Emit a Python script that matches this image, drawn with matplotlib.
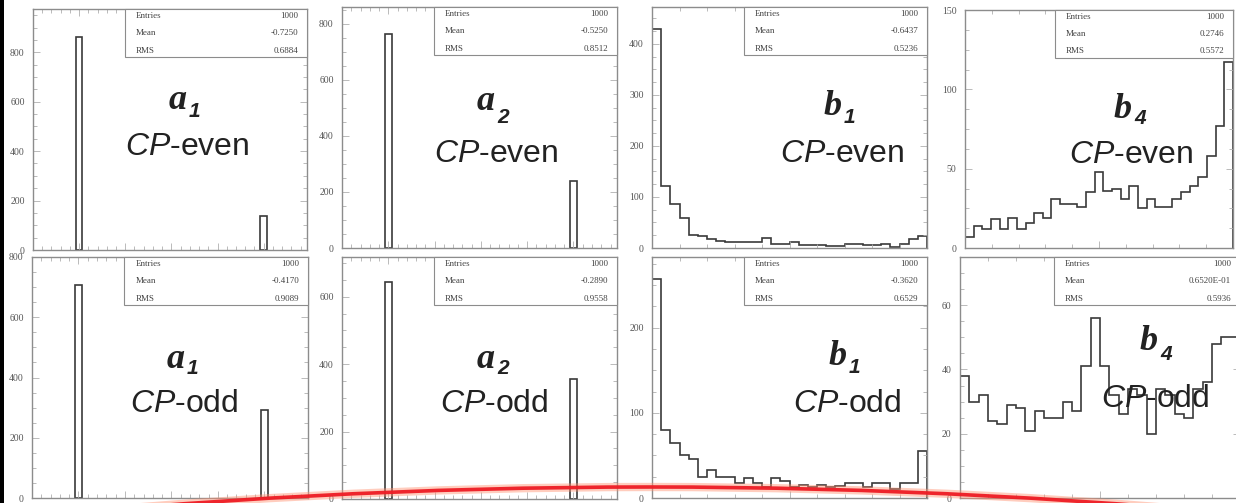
import numpy as np
import matplotlib.pyplot as plt
from matplotlib.patches import Rectangle, Arc
from matplotlib.ticker import MultipleLocator, AutoMinorLocator

plt.rcParams['mathtext.fontset'] = 'custom'
plt.rcParams['mathtext.it'] = 'Liberation Sans:italic'
plt.rcParams['mathtext.rm'] = 'Liberation Sans'

W, H = 1236, 503

# a1, a2 only take the values -1 and +1
a_values = [-1.0, 1.0]
a1_even = [862, 138]
a2_even = [762, 238]
a1_odd = [708, 292]
a2_odd = [645, 355]

# b1, b4 binned over [-1, 1]
b1_even = [428, 121, 87, 59, 26, 23, 18, 13, 11, 11, 11, 11, 20, 7, 7,
           11, 5, 5, 5, 4, 4, 7, 7, 6, 6, 7, 2, 7, 18, 23]
b4_even = [7, 14, 12, 18, 12, 19, 12, 16, 22, 19, 31, 28, 28, 26, 35, 48,
           36, 37, 31, 39, 25, 31, 26, 26, 31, 35, 39, 45, 58, 77, 117]
b1_odd = [257, 80, 64, 50, 46, 25, 33, 25, 25, 18, 24, 18, 13, 24, 20,
          13, 15, 13, 15, 13, 14, 18, 18, 13, 18, 18, 11, 18, 18, 55]
b4_odd = [38, 30, 32, 24, 23, 29, 28, 21, 27, 25, 25, 30, 27, 41, 56,
          41, 32, 26, 34, 32, 20, 34, 32, 26, 25, 34, 36, 48, 50, 50]

# statistics boxes
entries = ["1000"] * 8
means = ["-0.7250", "-0.5250", "-0.6437", "0.2746",
         "-0.4170", "-0.2890", "-0.3620", "0.6520E-01"]
rms = ["0.6884", "0.8512", "0.5236", "0.5572",
       "0.9089", "0.9558", "0.6529", "0.5936"]

letters = ["a", "a", "b", "b", "a", "a", "b", "b"]
indices = ["1", "2", "1", "4", "1", "2", "1", "4"]
parity = ["even"] * 4 + ["odd"] * 4
datasets = [a1_even, a2_even, b1_even, b4_even, a1_odd, a2_odd, b1_odd, b4_odd]

# layout in pixels: box (l, t, r, b), ymax, ystep, letter anchor, sub drop, CP anchor
layout = [
    ((33, 9, 307, 250), 975, 200, (187, 109), 8, (187, 155)),
    ((342, 7, 617, 248), 860, 200, (495, 110), 13, (496, 162)),
    ((652, 7, 927, 248), 472, 100, (842, 115), 8, (842, 162)),
    ((965, 10, 1233, 248), 150, 50, (1132, 118), 6, (1131, 163)),
    ((32, 257, 308, 498), 800, 200, (185, 368), 6, (184, 412)),
    ((342, 257, 617, 499), 718, 200, (495, 368), 6, (494, 412)),
    ((652, 257, 927, 498), 283, 100, (847, 365), 8, (847, 412)),
    ((960, 257, 1240, 498), 75, 20, (1158, 350), 10, (1155, 407)),
]

LINE = '#3a3a3a'
FRAME = '#8c8c8c'


def fx(x):
    return x / W


def fy(y):
    return 1 - y / H


fig = plt.figure(figsize=(W / 100, H / 100), dpi=100, facecolor='white')

for i, (data, (bx, ymax, ystep, anchor, drop, cp)) in enumerate(zip(datasets, layout)):
    l, t, r, b = bx
    ax = fig.add_axes([fx(l), fy(b), (r - l) / W, (b - t) / H])

    if letters[i] == "a":
        ax.bar(a_values, data, width=0.07, facecolor='white',
               edgecolor=LINE, linewidth=1.2)
        ax.set_xlim(-1.5, 1.47)
        ax.xaxis.set_major_locator(MultipleLocator(0.5))
    else:
        edges = np.linspace(-1, 1, len(data) + 1)
        ax.stairs(data, edges, color=LINE, linewidth=1.2)
        ax.set_xlim(-1, 1)
        ax.xaxis.set_major_locator(MultipleLocator(1))
    ax.xaxis.set_minor_locator(AutoMinorLocator(5))

    ax.set_ylim(0, ymax)
    ax.yaxis.set_major_locator(MultipleLocator(ystep))
    ax.yaxis.set_minor_locator(AutoMinorLocator(4))

    for s in ax.spines.values():
        s.set_color(FRAME)
        s.set_linewidth(1.0)
    ax.tick_params(which='both', direction='in', top=True, right=True,
                   color='#b0b0b0', width=0.6)
    ax.tick_params(which='major', length=5, pad=6)
    ax.tick_params(which='minor', length=3)
    ax.tick_params(axis='y', labelsize=7, labelcolor='#555555')
    # x labels fall below the panels, outside the picture
    ax.tick_params(axis='x', labelbottom=False)
    for lab in ax.get_yticklabels():
        lab.set_family('Liberation Serif')

    # statistics box
    ax.add_patch(Rectangle((0.335, 0.80), 0.665, 0.20, transform=ax.transAxes,
                           facecolor='white', edgecolor=FRAME, linewidth=0.8,
                           zorder=5, clip_on=False))
    for row, (name, val) in enumerate(zip(["Entries", "Mean", "RMS"],
                                          [entries[i], means[i], rms[i]])):
        yy = 0.972 - row * 0.073
        ax.text(0.375, yy, name, transform=ax.transAxes, fontsize=6.5,
                family='Liberation Serif', color='#444444', va='center',
                zorder=6)
        ax.text(0.968, yy, val, transform=ax.transAxes, fontsize=6.5,
                family='Liberation Serif', color='#444444', va='center',
                ha='right', zorder=6)

    # observable name and CP hypothesis
    axx, axy = anchor
    fig.text(fx(axx), fy(axy), letters[i], fontsize=26, family='Liberation Serif',
             weight='bold', style='italic', ha='right', va='baseline',
             color='#222222', zorder=10)
    fig.text(fx(axx + 2), fy(axy + drop), indices[i], fontsize=15,
             family='Liberation Sans', weight='bold', style='italic',
             ha='left', va='baseline', color='#222222', zorder=10)
    fig.text(fx(cp[0]), fy(cp[1]), r'$CP$-' + parity[i], fontsize=23,
             family='Liberation Sans', ha='center', va='baseline',
             color='#222222', zorder=10)

# dark strip on the left edge
fig.patches.append(Rectangle((0, 0), 3.5 / W, 1, transform=fig.transFigure,
                             facecolor='black', edgecolor='none', zorder=20))

# red arc sweeping across the bottom
R = 64.7
for lw, col, a in [(6, '#ff9070', 0.45), (2.6, '#ee1c24', 0.95)]:
    fig.patches.append(Arc((6.5, 0.16 - R), 2 * R, 2 * R, theta1=84.0, theta2=96.0,
                           transform=fig.dpi_scale_trans, color=col, lw=lw,
                           alpha=a, zorder=21))

fig.savefig('out.png', dpi=100, facecolor='white')
